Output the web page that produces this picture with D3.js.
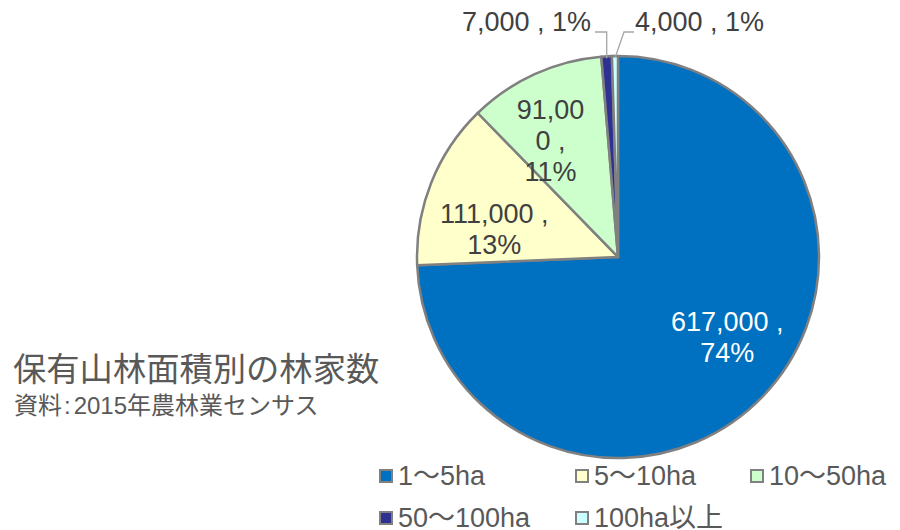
<html>
<head>
<meta charset="utf-8" />
<title>保有山林面積別の林家数</title>
<script src="https://cdn.jsdelivr.net/npm/d3@7"></script>
<style>
body { margin: 0; background: #fff; }
text { font-family: "Liberation Sans", Arial, "Noto Sans CJK JP", sans-serif; }
</style>
</head>
<body>
<script>

var categories = ["1～5ha", "5～10ha", "10～50ha", "50～100ha", "100ha以上"];
var values = [617000, 111000, 91000, 7000, 4000];
var pctLabels = ["74%", "13%", "11%", "1%", "1%"];
var colors = ["#0070C0", "#FFFFCC", "#CCFFCC", "#2E3192", "#CCFFFF"];

var width = 900, height = 530;
var cx = 618, cy = 257, radius = 201;

var svg = d3.select("body").append("svg")
	.attr("width", width)
	.attr("height", height);

var pie = d3.pie().sort(null).value(d => d.value);
var data = categories.map((c, i) => ({name: c, value: values[i], pct: pctLabels[i], color: colors[i]}));
var arcs = pie(data);

var arc = d3.arc().innerRadius(0).outerRadius(radius);

var g = svg.append("g").attr("transform", `translate(${cx},${cy})`);

g.selectAll("path")
	.data(arcs)
	.enter().append("path")
	.attr("d", arc)
	.attr("fill", d => d.data.color)
	.attr("stroke", "#808080")
	.attr("stroke-width", 2.5)
	.attr("stroke-linejoin", "round");

var fmt = d3.format(",");

// inside labels, wrapped like the original; position given as polar (degrees clockwise from top, radius)
var insideLines = [
	[fmt(values[0]) + " ,", pctLabels[0]],
	[fmt(values[1]) + " ,", pctLabels[1]],
	["91,00", "0 ,", pctLabels[2]]
];
var insidePolar = [[126, 135], [283, 127], [330, 135]];

insideLines.forEach(function(lines, i) {
	var ang = insidePolar[i][0] * Math.PI / 180, r = insidePolar[i][1];
	var x = Math.sin(ang) * r, y = -Math.cos(ang) * r;
	var lh = 31;
	var t = g.append("text")
		.attr("text-anchor", "middle")
		.attr("font-size", "27px")
		.attr("fill", i === 0 ? "#ffffff" : "#404040");
	lines.forEach(function(l, j) {
		t.append("tspan")
			.attr("x", x)
			.attr("y", y + (j - (lines.length - 1) / 2) * lh + 10)
			.text(l);
	});
});

// outside labels with leader lines
var leaderY = -225;
var outside = [
	{i: 3, tx: -27, anchor: "end"},
	{i: 4, tx: 17, anchor: "start"}
];
outside.forEach(function(o) {
	var a = arcs[o.i];
	var mid = (a.startAngle + a.endAngle) / 2;
	var px = Math.sin(mid) * (radius - 2), py = -Math.cos(mid) * (radius - 2);
	var pts;
	if (o.anchor === "end") {
		pts = [[px, py], [px, leaderY], [o.tx + 4, leaderY]];
	} else {
		pts = [[px, py], [o.tx - 11, leaderY], [o.tx - 1, leaderY]];
	}
	g.append("path")
		.attr("d", d3.line()(pts))
		.attr("fill", "none")
		.attr("stroke", "#a6a6a6")
		.attr("stroke-width", 1.3);
	g.append("text")
		.attr("x", o.tx)
		.attr("y", leaderY - 1)
		.attr("text-anchor", o.anchor)
		.attr("font-size", "27px")
		.attr("fill", "#404040")
		.text(fmt(values[o.i]) + " , " + pctLabels[o.i]);
});

// title
svg.append("text")
	.attr("x", 13)
	.attr("y", 381)
	.attr("font-size", "33.3px")
	.attr("fill", "#595959")
	.style("font-family", "'Noto Sans CJK JP', sans-serif")
	.text("保有山林面積別の林家数");

var sub = svg.append("text")
	.attr("x", 14)
	.attr("y", 414)
	.attr("font-size", "24px")
	.attr("fill", "#595959");
sub.append("tspan").text("資料");
sub.append("tspan").attr("dx", 2).text(":");
sub.append("tspan").attr("dx", 3).text("2015年農林業センサス");

// legend
var legendPos = [[380, 476], [576, 476], [751, 476], [380, 518], [576, 518]];
var lg = svg.selectAll("g.legend")
	.data(data)
	.enter().append("g")
	.attr("class", "legend")
	.attr("transform", (d, i) => `translate(${legendPos[i][0]},${legendPos[i][1]})`);

lg.append("rect")
	.attr("x", 0).attr("y", -6)
	.attr("width", 12).attr("height", 12)
	.attr("fill", d => d.color)
	.attr("stroke", "#808080")
	.attr("stroke-width", 2);

lg.append("text")
	.attr("x", 18)
	.attr("y", 9)
	.attr("font-size", "27px")
	.attr("fill", "#595959")
	.text(d => d.name);

</script>
</body>
</html>
